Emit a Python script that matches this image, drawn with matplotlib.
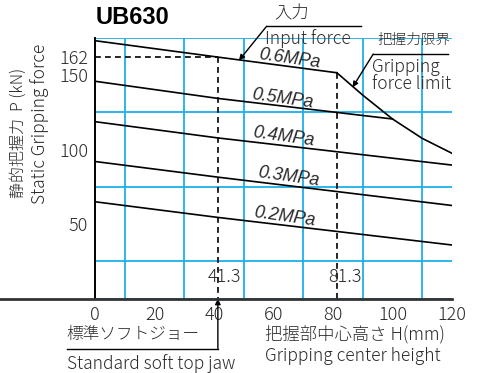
import matplotlib.pyplot as plt
import matplotlib.transforms as mtransforms
from matplotlib.lines import Line2D

plt.rcParams['font.family'] = ['Noto Sans CJK JP', 'DejaVu Sans']
plt.rcParams['font.weight'] = 'light'

# curves: grip center height H (mm) vs gripping force P (kN)
h_06 = [0, 41.3, 81.3]
p_06 = [173, 162, 151.5]
h_05 = [0, 41.3, 100]
p_05 = [145.8, 134.3, 120.5]
h_04 = [0, 41.3, 120]
p_04 = [118.7, 107.8, 89.6]
h_03 = [0, 41.3, 120]
p_03 = [92, 81.5, 62.5]
h_02 = [0, 41.3, 120]
p_02 = [65, 54.5, 36]
h_limit = [81.3, 90, 100, 110, 120]
p_limit = [151.5, 136.5, 120.5, 107.5, 97.5]

pressure_labels = ['0.6MPa', '0.5MPa', '0.4MPa', '0.3MPa', '0.2MPa']
label_h = [65.5, 62.9, 63.5, 64.9, 63.7]
label_p = [160.8, 133.8, 108.5, 81.8, 55.1]

std_jaw_h = 41.3
std_jaw_p = 162
limit_h = 81.3
limit_p = 151.5

x_ticks = [0, 20, 40, 60, 80, 100, 120]
y_ticks = [50, 100, 150, 162]

grid_blue = '#1CB0EA'
ink = '#2a2a2a'

fig = plt.figure(figsize=(4.81, 3.73), dpi=100)
ax = fig.add_axes([0.1975, 0.1992, 0.7422, 0.6997])
ax.set_xlim(0, 120)
ax.set_ylim(0, 175)

# blue grid every 10 mm / 25 kN
ax.set_xticks(range(0, 121, 10), minor=True)
ax.set_yticks(range(0, 176, 25), minor=True)
ax.grid(which='minor', color=grid_blue, lw=1.3, zorder=0)
ax.set_axisbelow(True)
ax.set_xticks(x_ticks)
ax.set_yticks(y_ticks)
ax.tick_params(which='both', length=0, labelsize=13, colors=ink)
ax.tick_params(axis='x', pad=5)
ax.tick_params(axis='y', pad=5)

for s in ['top', 'right', 'bottom']:
    ax.spines[s].set_visible(False)
ax.spines['left'].set_linewidth(1.4)
ax.spines['left'].set_zorder(3)

# bottom axis line runs to the left edge of the figure
trans = mtransforms.blended_transform_factory(fig.transFigure, ax.transData)
fig.add_artist(Line2D([0, ax.get_position().x1], [0, 0], transform=trans,
                      color='#333333', lw=2, zorder=5))

for hh, pp in [(h_06, p_06), (h_05, p_05), (h_04, p_04), (h_03, p_03),
               (h_02, p_02), (h_limit, p_limit)]:
    ax.plot(hh, pp, color='black', lw=1.2, zorder=3)

for txt, lx, ly in zip(pressure_labels, label_h, label_p):
    ax.text(lx, ly, txt, fontsize=13, family='Liberation Sans', style='italic',
            weight='normal', rotation=-8, rotation_mode='anchor', ha='center',
            va='center', color=ink, zorder=4)

dash = dict(color='black', lw=1.2, ls=(0, (3.5, 2.5)), zorder=3)
ax.plot([0, std_jaw_h], [std_jaw_p, std_jaw_p], **dash)
ax.plot([std_jaw_h, std_jaw_h], [std_jaw_p, 0], **dash)
ax.plot([limit_h, limit_h], [limit_p, 0], **dash)

ax.text(43.4, 14.7, '41.3', fontsize=13, ha='center', va='center', color=ink)
ax.text(84.0, 14.7, '81.3', fontsize=13, ha='center', va='center', color=ink)

arrow = dict(arrowstyle='-|>', color='black', lw=1.0, mutation_scale=8,
             shrinkA=0, shrinkB=0)

# input force callout
ax.annotate('', xy=(48.4, 159.8), xytext=(57.7, 182.7), arrowprops=arrow,
            annotation_clip=False)
ax.plot([57.7, 89.3], [182.7, 182.7], color='black', lw=1.0, clip_on=False)
ax.text(66.1, 191.3, '入力', fontsize=12.5, ha='center', va='center', color=ink)
ax.text(57.3, 174.7, 'Input force', fontsize=12.5, ha='left', va='center', color=ink)

# gripping force limit callout
ax.annotate('', xy=(86.6, 141.8), xytext=(93.5, 164), arrowprops=arrow,
            annotation_clip=False)
ax.plot([93.5, 118.7], [164, 164], color='black', lw=1.0, clip_on=False)
ax.text(95.0, 173.5, '把握力限界', fontsize=10.5, ha='left', va='center', color=ink)
ax.text(93.0, 155.3, 'Gripping', fontsize=12.5, ha='left', va='center', color=ink)
ax.text(93.0, 143.8, 'force limit', fontsize=12.5, ha='left', va='center', color=ink)

# standard soft top jaw callout
ax.annotate('', xy=(std_jaw_h, 0), xytext=(std_jaw_h, -33.5), arrowprops=arrow,
            annotation_clip=False)
ax.plot([-9.5, std_jaw_h], [-33.5, -33.5], color='black', lw=1.0, clip_on=False)
ax.text(-9.5, -24.2, '標準ソフトジョー', fontsize=12, ha='left', va='center', color=ink)
ax.text(-9.5, -43.5, 'Standard soft top jaw', fontsize=12.5, ha='left', va='center',
        color=ink)

# axis titles
ax.text(57.0, -24.2, '把握部中心高さ H(mm)', fontsize=12.5, ha='left', va='center',
        color=ink)
ax.text(57.0, -38.5, 'Gripping center height', fontsize=12.5, ha='left', va='center',
        color=ink)
fig.text(18 / 481, 1 - 133 / 373, '静的把握力  P (kN)', fontsize=11.5, rotation=90,
         ha='center', va='center', color=ink)
fig.text(40 / 481, 1 - 124 / 373, 'Static Gripping force', fontsize=12.5, rotation=90,
         ha='center', va='center', color=ink)

fig.text(96 / 481, 1 - 18 / 373, 'UB630', fontsize=17, family='Liberation Sans',
         weight='bold', ha='left', va='center', color='black')

fig.savefig('out.png', dpi=100)
